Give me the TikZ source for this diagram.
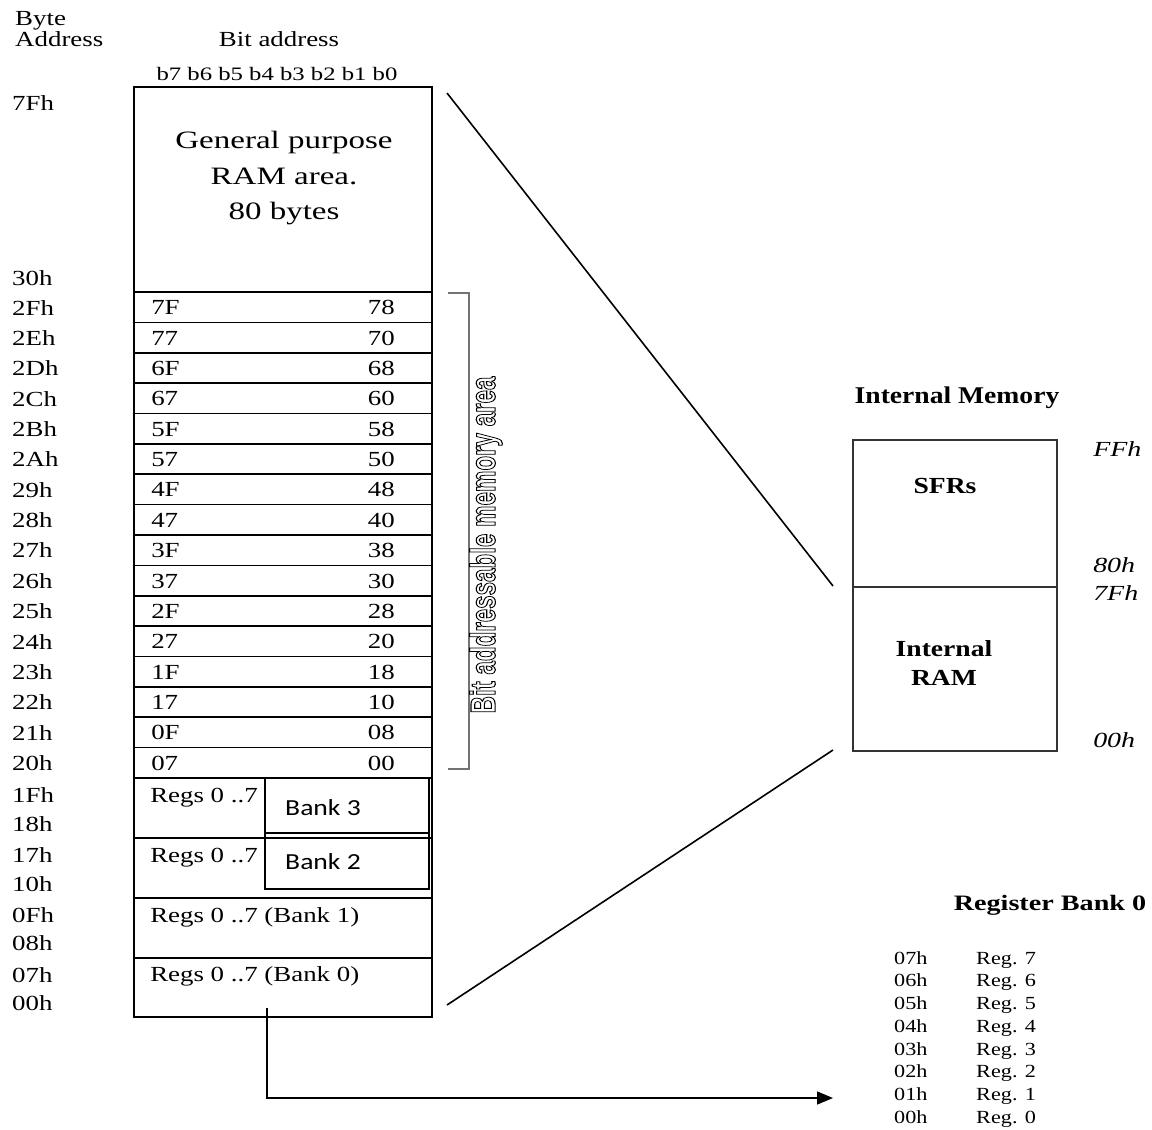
\documentclass[tikz,border=0pt]{standalone}
\usepackage{fontspec}
\setmainfont{Liberation Serif}
\newfontfamily\calibfont{Carlito}
\newfontfamily\narrowfont{Liberation Sans}
\usetikzlibrary{arrows.meta}
\begin{document}
\begin{tikzpicture}[x=1pt,y=-1pt,
  lbl/.style={font=\fontsize{21.5}{24}\selectfont, inner sep=0pt, xscale=1.25, anchor=base west},
  lblr/.style={lbl, anchor=base east},
  bits/.style={font=\fontsize{19}{22}\selectfont, inner sep=0pt, xscale=1.3, anchor=base},
  big/.style={font=\fontsize{25}{28}\selectfont, inner sep=0pt, xscale=1.32, anchor=base},
  bankt/.style={font=\calibfont\fontsize{23}{26}\selectfont, inner sep=0pt, xscale=1.2, anchor=base west},
  ttl/.style={font=\bfseries\fontsize{24}{28}\selectfont, inner sep=0pt, xscale=1.15, anchor=base},
  ttlb/.style={font=\bfseries\fontsize{22}{26}\selectfont, inner sep=0pt, xscale=1.28, anchor=base},
  boldl/.style={font=\bfseries\fontsize{23}{25}\selectfont, inner sep=0pt, xscale=1.2, anchor=base},
  ital/.style={font=\itshape\fontsize{21.5}{24}\selectfont, inner sep=0pt, xscale=1.3, anchor=base west},
  smalll/.style={font=\fontsize{18.5}{21}\selectfont, inner sep=0pt, xscale=1.2, anchor=base west},
  cell/.style={draw, line width=1.6pt, minimum width=298pt, inner sep=0pt},
  bankbox/.style={draw, line width=1.6pt, minimum width=164pt, inner sep=0pt},
  membox/.style={draw=black!80, line width=1.4pt, minimum width=204pt, inner sep=0pt},
  wire/.style={line width=1.6pt},
  brk/.style={draw=black!55, line width=1.6pt}
]
\useasboundingbox (0,0) rectangle (1152,1130);
\clip (0,0) rectangle (1152,1130);

% headings
\node[lbl] (hbyte) at (15,25) {Byte};
\node[lbl] (haddr) at (15,46) {Address};
\node[lbl, anchor=base] (hbit) at (279,46) {Bit address};
\node[bits] (hbits) at (277,80) {b7 b6 b5 b4 b3 b2 b1 b0};

% general purpose area
\node[cell, minimum height=205pt] (gp) at (283,189.5) {};
\node[big] (gp1) at (284,148) {General purpose};
\node[big] (gp2) at (284,184) {RAM area.};
\node[big] (gp3) at (284,219) {80 bytes};

% bit-addressable rows
\foreach \l/\r [count=\i from 0] in {7F/78,77/70,6F/68,67/60,5F/58,57/50,4F/48,47/40,3F/38,37/30,2F/28,27/20,1F/18,17/10,0F/08,07/00}{
  \pgfmathsetmacro{\yc}{307.19+30.375*\i}
  \node[cell, minimum height=30.375pt] (row\i) at (283,\yc) {};
  \node[lbl] (rl\i) at (151,\yc+7.5) {\l};
  \node[lblr] (rr\i) at (395,\yc+7.5) {\r};
}

% register bank sections
\node[cell, minimum height=60pt] (reg3) at (283,808) {};
\node[cell, minimum height=60pt] (reg2) at (283,868) {};
\node[cell, minimum height=60pt] (reg1) at (283,928) {};
\node[cell, minimum height=59pt] (reg0) at (283,987.5) {};
\node[lbl] (rg3) at (150,802) {Regs 0 ..7};
\node[lbl] (rg2) at (150,862) {Regs 0 ..7};
\node[lbl] (rg1) at (150,922) {Regs 0 ..7 (Bank 1)};
\node[lbl] (rg0) at (150,981) {Regs 0 ..7 (Bank 0)};
\node[bankbox, minimum height=55pt] (bank3) at (347,805) {};
\node[bankbox, minimum height=56pt] (bank2) at (347,861) {};
\node[bankt] (bt3) at (285,815) {Bank 3};
\node[bankt] (bt2) at (285,869) {Bank 2};

% byte addresses
\foreach \t/\y [count=\k] in {7Fh/110,30h/285,2Fh/315,2Eh/345,2Dh/375.5,2Ch/406,2Bh/436,2Ah/466.5,29h/497,28h/527,27h/557.5,26h/588,25h/618,24h/649,23h/679,22h/709.5,21h/740,20h/770,1Fh/802,18h/831,17h/862,10h/891,0Fh/922,08h/950,07h/982,00h/1010}{
  \node[lbl] (ba\k) at (12,\y) {\t};
}

% bracket
\coordinate (bkt) at (448,293);
\coordinate (bkb) at (448,769);
\draw[brk] (bkt) -- (469,293) -- (469,769) -- (bkb);
\node[rotate=90, inner sep=0pt, line width=1.1pt,
      font=\narrowfont\bfseries\fontsize{35}{38}\selectfont] (bam) at (486,545)
  {\scalebox{0.69}[1]{\special{pdf:literal direct 1 Tr}Bit addressable memory area\special{pdf:literal direct 0 Tr}}};

% internal memory
\node[ttl] (imt) at (957,403) {Internal Memory};
\node[membox, minimum height=147pt] (sfr) at (955,513.5) {};
\node[membox, minimum height=164pt] (iram) at (955,669) {};
\node[boldl] (sfrt) at (945,493) {SFRs};
\node[boldl] (irt1) at (944,656) {Internal};
\node[boldl] (irt2) at (944,685) {RAM};
\node[ital] (aFF) at (1093,456) {FFh};
\node[ital] (a80) at (1093,572) {80h};
\node[ital] (a7F) at (1093,600) {7Fh};
\node[ital] (a00) at (1093,747) {00h};

% connecting diagonals
\coordinate (d1a) at (447,93);
\coordinate (d1b) at (833,586);
\coordinate (d2a) at (833,750);
\coordinate (d2b) at (447,1005);
\draw[wire] (d1a) -- (d1b);
\draw[wire] (d2a) -- (d2b);

% register bank 0 detail
\node[ttlb] (rbt) at (1050,910) {Register Bank 0};
\foreach \a/\b [count=\j from 0] in {07h/7,06h/6,05h/5,04h/4,03h/3,02h/2,01h/1,00h/0}{
  \pgfmathsetmacro{\yb}{964+22.75*\j}
  \node[smalll] (ra\j) at (894,\yb) {\a};
  \node[smalll] (rn\j) at (976,\yb) {Reg. \b};
}

% arrow
\coordinate (arS) at (267,1008);
\coordinate (arE) at (833,1098);
\draw[wire, -{Triangle[length=16pt,width=13pt]}] (arS) |- (arE);
\end{tikzpicture}
\end{document}
